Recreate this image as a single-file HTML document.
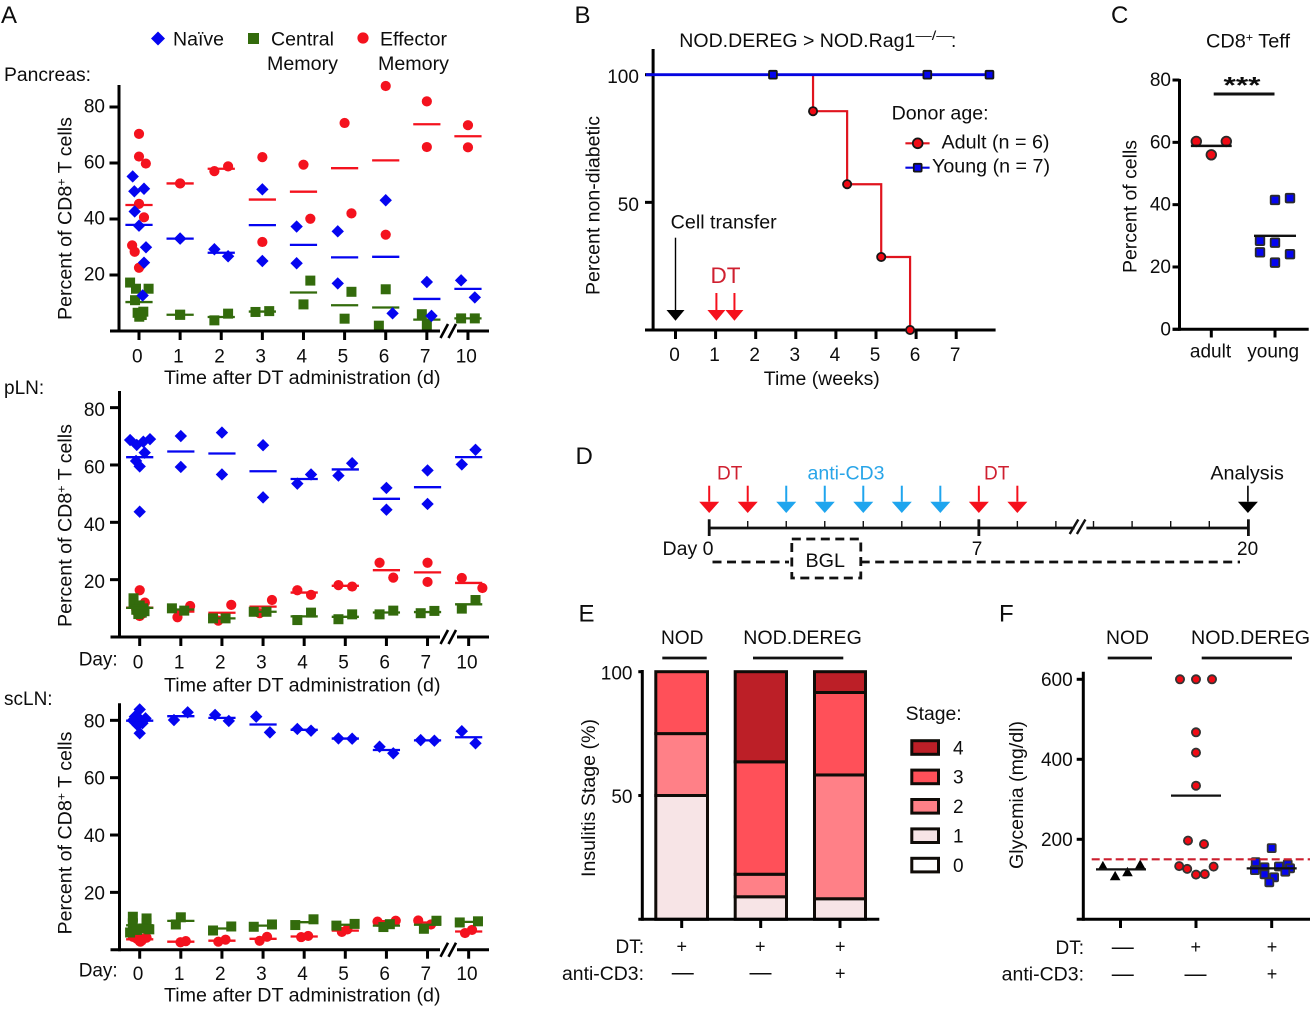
<!DOCTYPE html>
<html lang="en">
<head>
<meta charset="utf-8">
<title>CD8+ T cell figure</title>
<style>
html,body{margin:0;padding:0;background:#fff;}
svg{display:block;font-family:"Liberation Sans",Arial,sans-serif;font-size:19px;fill:#0d0d0d;}
.letter{font-size:24px;}
</style>
</head>
<body>
<svg id="figure" xmlns="http://www.w3.org/2000/svg" width="1315" height="1009" viewBox="0 0 1315 1009">
<rect x="0" y="0" width="1315" height="1009" fill="#ffffff"/>

<text class="letter" x="1" y="23">A</text>
<text class="letter" x="574.5" y="23">B</text>
<text class="letter" x="1111" y="23">C</text>
<text class="letter" x="575.5" y="464">D</text>
<text class="letter" x="578.5" y="621.5">E</text>
<text class="letter" x="999" y="621.5">F</text>

<g>
  <polygon points="158,31.5 165,38.5 158,45.5 151,38.5" fill="#0505f0"/>
  <text x="173" y="45.7" textLength="51" lengthAdjust="spacingAndGlyphs">Naïve</text>
  <rect x="248" y="33" width="11" height="11" fill="#336b0c"/>
  <text x="271" y="45.7" textLength="63" lengthAdjust="spacingAndGlyphs">Central</text>
  <text x="267" y="70" textLength="71" lengthAdjust="spacingAndGlyphs">Memory</text>
  <circle cx="363" cy="38" r="5.6" fill="#f4121e"/>
  <text x="380" y="45.7" textLength="67" lengthAdjust="spacingAndGlyphs">Effector</text>
  <text x="378" y="70" textLength="71" lengthAdjust="spacingAndGlyphs">Memory</text>
</g>

<text x="4" y="81" textLength="87" lengthAdjust="spacingAndGlyphs">Pancreas:</text>
<text x="4" y="394">pLN:</text>
<text x="4" y="705">scLN:</text>

<g id="chart-pancreas"></g>
<g id="chart-pln"></g>
<g id="chart-scln"></g>

<text transform="translate(71.5,320) rotate(-90)" textLength="203" lengthAdjust="spacingAndGlyphs">Percent of CD8<tspan font-size="12" dy="-6">+</tspan><tspan dy="6"> T cells</tspan></text>
<text transform="translate(71.5,627) rotate(-90)" textLength="203" lengthAdjust="spacingAndGlyphs">Percent of CD8<tspan font-size="12" dy="-6">+</tspan><tspan dy="6"> T cells</tspan></text>
<text transform="translate(71.5,934.5) rotate(-90)" textLength="203" lengthAdjust="spacingAndGlyphs">Percent of CD8<tspan font-size="12" dy="-6">+</tspan><tspan dy="6"> T cells</tspan></text>
<text x="164" y="384" textLength="276.5" lengthAdjust="spacingAndGlyphs">Time after DT administration (d)</text>
<text x="164" y="691.7" textLength="276.5" lengthAdjust="spacingAndGlyphs">Time after DT administration (d)</text>
<text x="164" y="1001.7" textLength="276.5" lengthAdjust="spacingAndGlyphs">Time after DT administration (d)</text>
<text x="78.7" y="665.7" textLength="39" lengthAdjust="spacingAndGlyphs">Day:</text>
<text x="78.7" y="976.7" textLength="39" lengthAdjust="spacingAndGlyphs">Day:</text>

<!-- Panel B static text -->
<text x="679.3" y="47" textLength="236" lengthAdjust="spacingAndGlyphs">NOD.DEREG &gt; NOD.Rag1</text>
<text x="915.5" y="40" font-size="13" textLength="37" lengthAdjust="spacingAndGlyphs">—/—</text>
<text x="951" y="47">:</text>
<text transform="translate(599.5,295) rotate(-90)" textLength="179" lengthAdjust="spacingAndGlyphs">Percent non-diabetic</text>
<text x="763.8" y="385" textLength="116" lengthAdjust="spacingAndGlyphs">Time (weeks)</text>
<text x="670.7" y="228.3" textLength="106" lengthAdjust="spacingAndGlyphs">Cell transfer</text>
<text x="710.5" y="283" font-size="22.5" fill="#cf2030">DT</text>
<text x="891.6" y="119.5" textLength="97" lengthAdjust="spacingAndGlyphs">Donor age:</text>
<text x="941.5" y="148.3" textLength="108" lengthAdjust="spacingAndGlyphs">Adult (n = 6)</text>
<text x="932" y="172.7" textLength="118" lengthAdjust="spacingAndGlyphs">Young (n = 7)</text>
<g id="chart-b"></g>

<!-- Panel C static text -->
<text x="1206" y="47.3" textLength="84" lengthAdjust="spacingAndGlyphs">CD8<tspan font-size="12" dy="-6">+</tspan><tspan dy="6"> Teff</tspan></text>
<text transform="translate(1136.7,273) rotate(-90)" textLength="133" lengthAdjust="spacingAndGlyphs">Percent of cells</text>
<text x="1223.5" y="93" font-size="23" font-weight="bold" textLength="37" lengthAdjust="spacingAndGlyphs">***</text>
<line x1="1213.7" y1="94" x2="1274.5" y2="94" stroke="#111" stroke-width="3"/>
<g id="chart-c"></g>

<!-- Panel D -->
<g id="timeline"></g>
<text x="717" y="479.3" fill="#cf2030">DT</text>
<text x="807.5" y="479.3" fill="#29a5e8" textLength="77" lengthAdjust="spacingAndGlyphs">anti-CD3</text>
<text x="984" y="479.3" fill="#cf2030">DT</text>
<text x="1210.4" y="479.3" textLength="73.5" lengthAdjust="spacingAndGlyphs">Analysis</text>
<text x="662.5" y="555" textLength="51" lengthAdjust="spacingAndGlyphs">Day 0</text>
<text x="971.7" y="555">7</text>
<text x="1237" y="555">20</text>
<text x="805.5" y="567" textLength="39.5" lengthAdjust="spacingAndGlyphs">BGL</text>
<line x1="712.5" y1="562" x2="789" y2="562" stroke="#111" stroke-width="2.8" stroke-dasharray="9 5.5"/>
<line x1="860.7" y1="562" x2="1240" y2="562" stroke="#111" stroke-width="2.8" stroke-dasharray="9 5.5"/>
<rect x="791.8" y="539" width="69" height="39" fill="none" stroke="#111" stroke-width="2.8" stroke-dasharray="9 5.5"/>

<!-- Panel E static text -->
<text x="661" y="644" textLength="42.5" lengthAdjust="spacingAndGlyphs">NOD</text>
<line x1="662.3" y1="658" x2="706.7" y2="658" stroke="#111" stroke-width="2.8"/>
<text x="743.3" y="644" textLength="118.5" lengthAdjust="spacingAndGlyphs">NOD.DEREG</text>
<line x1="753" y1="658" x2="843.3" y2="658" stroke="#111" stroke-width="2.8"/>
<text transform="translate(595,877) rotate(-90)" textLength="158" lengthAdjust="spacingAndGlyphs">Insulitis Stage (%)</text>
<text x="905.7" y="720" textLength="56" lengthAdjust="spacingAndGlyphs">Stage:</text>
<g id="chart-e"></g>
<text x="644" y="953" text-anchor="end">DT:</text>
<text x="562" y="980" textLength="82" lengthAdjust="spacingAndGlyphs">anti-CD3:</text>
<text x="681.7" y="952.5" text-anchor="middle" font-size="18">+</text>
<text x="760.3" y="952.5" text-anchor="middle" font-size="18">+</text>
<text x="840.3" y="952.5" text-anchor="middle" font-size="18">+</text>
<text x="682.8" y="979.5" text-anchor="middle" font-size="22">—</text>
<text x="760.5" y="979.5" text-anchor="middle" font-size="22">—</text>
<text x="840.3" y="979.5" text-anchor="middle" font-size="18">+</text>

<!-- Panel F static text -->
<text x="1106" y="644" textLength="43" lengthAdjust="spacingAndGlyphs">NOD</text>
<line x1="1107.7" y1="658" x2="1152" y2="658" stroke="#111" stroke-width="2.8"/>
<text x="1191" y="644" textLength="119" lengthAdjust="spacingAndGlyphs">NOD.DEREG</text>
<line x1="1201.7" y1="658" x2="1292" y2="658" stroke="#111" stroke-width="2.8"/>
<text transform="translate(1023,869) rotate(-90)" textLength="148" lengthAdjust="spacingAndGlyphs">Glycemia (mg/dl)</text>
<g id="chart-f"></g>
<text x="1084" y="954" text-anchor="end">DT:</text>
<text x="1001.7" y="980.7" textLength="82.3" lengthAdjust="spacingAndGlyphs">anti-CD3:</text>
<text x="1122.7" y="954" text-anchor="middle" font-size="22">—</text>
<text x="1195.7" y="953" text-anchor="middle" font-size="18">+</text>
<text x="1272" y="953" text-anchor="middle" font-size="18">+</text>
<text x="1122.7" y="981" text-anchor="middle" font-size="22">—</text>
<text x="1195.5" y="981" text-anchor="middle" font-size="22">—</text>
<text x="1272" y="980" text-anchor="middle" font-size="18">+</text>
</svg>

<script>
// ---------- Panel A data: one list per day, jitter lists are swarm slots (1 slot = 1/6 of a category) ----------
const dayLabels = ['0','1','2','3','4','5','6','7','10'];
const percentTicks = [20,40,60,80];

const pancreasNaive = [[55.2,49.9,50.8,42.7,37.6,29.9,24.4,12.7],[33,33],[29.2,26.7],[50.6,25],[37.3,24.2],[35.6,17],[46.7,6.3],[17.5,5.4],[18.1,12]];
const pancreasNaiveSlots = [[-0.92,-0.68,0.73,-0.63,0,1.02,0.73,0.53],[0,0],[-1,1],[0,0],[-1,-1],[-1,-1],[0,1],[0,0.68],[-1,1]];
const pancreasCentral = [[17.3,15.1,15.1,11,6.5,6.9,5.1,5.7],[5.8,5.8],[3.8,6.2],[6.8,7.1],[18,9.5],[14,4.4],[14.9,1.9],[6,2.1],[4.5,4.5]];
const pancreasCentralSlots = [[-1.3,-0.44,1.4,-0.58,-0.2,0.63,0.04,0.4],[0,0],[-1,1],[-1,1],[1,0],[1,0],[0,-1],[-0.73,0],[-1,1]];
const pancreasEffector = [[70.4,62.3,59.8,45.4,40.6,30.6,28.3,22.6],[52.7,52.7],[57.1,58.8],[62.1,31.8],[59.4,40.1],[74.3,42],[87.5,34.4],[82,65.7],[73.5,65.6]];
const pancreasEffectorSlots = [[0,0,1,0,0.73,-1,-0.63,0],[0,0],[-1,1],[0,0],[0,1],[0,1],[0,0],[0,0],[0,0]];

const plnNaive = [[68.7,67,68.1,69,64.3,61.4,59.5,43.7],[70.1,59.3],[71.3,56.7],[66.9,48.7],[53.5,56.7],[56.3,60.6],[52,44.4],[58.1,46.4],[60.2,65.3]];
const plnNaiveSlots = [[-1.4,-0.43,0.53,1.5,0.73,-0.53,0,0],[0,0],[0,0],[0,0],[-1,1],[-1,1],[0,0],[0,0],[-1,1]];
const plnCentral = [[13.5,11.7,11,10,9.5,9,8.5,8],[10,9.2],[6.5,6.5],[8.8,8.8],[5.9,8.5],[6.2,7.9],[7.9,9.2],[8.3,9.1],[9.9,12.9]];
const plnCentralSlots = [[-0.9,-0.9,0,0.5,-0.5,0.7,0.3,-0.2],[-1.3,0.5],[-1.3,0.53],[-1.36,0.5],[-1,1],[-1,1],[-1,1],[-1,1],[-1,1]];
const plnEffector = [[16.3,12,11,9.5,9.4,8.5,8,7.3],[10.8,6.9],[11.2,5.7],[12.9,8.3],[16.3,14.7],[18.1,17.6],[25.9,20.7],[25.9,19.2],[20.6,17.1]];
const plnEffectorSlots = [[0,0.75,0,-0.5,0.5,-0.3,0.3,0],[1.36,-0.49],[1.36,-0.53],[1.3,-0.5],[-1,1],[-1,1],[-1,1],[0,0],[-1,2]];

const sclnNaive = [[83.8,81.3,80.7,80.5,80,79,78.3,75.5],[80.1,82.8],[81.9,79.8],[81.3,75.8],[77,76.4],[73.7,73.6],[70.8,68.5],[73.1,72.9],[76.2,72]];
const sclnNaiveSlots = [[0,-0.7,0.85,0,-1,0.4,-0.3,0],[-1,1],[-1,1],[-1,1],[-1,1],[-1,1],[-1,1],[-1,1],[-1,1]];
const sclnCentral = [[11.5,10.9,9.2,9.2,6,6.9,7.4,7.1],[11.3,8.8],[6.7,8.1],[8,8.8],[8.6,10.6],[8.4,9],[7.9,8.9],[7.3,10.1],[9.5,9.9]];
const sclnCentralSlots = [[-1,1,-1,1,-1.4,-0.4,0.5,1.4],[0,-0.73],[-1.3,1.36],[-1.36,1.3],[-1.3,1.36],[-1.3,1.36],[-0.44,0.5],[-0.53,1.3],[-1.3,1.36]];
const sclnEffector = [[4.5,4.2,4,3.8,3.5,3.2,3,2.8],[2.6,3],[2.8,3.5],[3.1,4.5],[4.4,4.8],[6.2,7.1],[9.8,10.1],[10.2,8.8],[5.8,6.9]];
const sclnEffectorSlots = [[-1,1,-0.5,0.5,-0.2,0.3,0,0.1],[-0.05,0.73],[-0.53,0.53],[-0.5,0.58],[-0.44,0.58],[-0.5,0.3],[-1.3,1.36],[-1.36,0.5],[-0.53,0.49]];

// ---------- Panel B data ----------
const weekTicks = [0,1,2,3,4,5,6,7];
const survivalTicks = [50,100];
const adultEventWeeks = [3.43,4.28,5.13,5.85];
const adultSurvival = [85.7,57.1,28.6,0];
const youngCensorWeeks = [2.43,6.28,7.83];
const youngSurvival = [100,100,100];
const cellTransferWeek = [0];
const dtWeeks = [1.02,1.47];

// ---------- Panel C data ----------
const teffGroups = ['adult','young'];
const teffTicks = [0,20,40,60,80];
const teffAdult = [60.3,60.3,56];
const teffAdultSlots = [-1,1,0];
const teffYoung = [41.5,42.1,28.4,27.8,24.7,24.1,21.4];
const teffYoungSlots = [0,1,-1,0,-1,1,0];

// ---------- Panel D data ----------
const timelineDays = [0,1,2,3,4,5,6,7,8,9];
const timelineLateDays = [10,11,12,13,14];
const dtDays = [0,1,7,8];
const antiCd3Days = [2,3,4,5,6];

// ---------- Panel E data ----------
const stageNames = ['1','2','3','4'];
const stageBarNod = [50,25,25,0];
const stageBarDereg = [9.1,9.1,45.4,36.4];
const stageBarDeregCd3 = [8.3,50,33.3,8.4];
const stageLegend = ['4','3','2','1','0'];
const insulitisTicks = [50,100];

// ---------- Panel F data ----------
const glycemiaTicks = [200,400,600];
const glycemiaThreshold = [150];
const glycemiaNod = [134,109,119,137.5];
const glycemiaNodSlots = [-2.2,-0.67,0.87,2.46];
const glycemiaDereg = [600,600,600,467.5,416.7,334,196.7,188,133,126,111.7,113,131.7];
const glycemiaDeregSlots = [-2,0,2,0,0,0,-1,1,-2.1,-1.1,0,1.1,2.2];
const glycemiaDeregCd3 = [178,143,137.5,132,130,123,127.5,119,105,112.5,92.5];
const glycemiaDeregCd3Slots = [0,-2,2,0.9,-0.9,-2.1,2.3,1.7,0.3,-0.9,-0.3];

// ---------- Helpers ----------
const SVGNS = 'http://www.w3.org/2000/svg';
const BLUE = '#0505f0', GREEN = '#336b0c', RED = '#f4121e';

function add(parent, tag, attrs, name) {
  const el = document.createElementNS(SVGNS, tag);
  for (const k in attrs) el.setAttribute(k, attrs[k]);
  
  
  parent.appendChild(el);
  return el;
}
function line(parent, x1, y1, x2, y2, stroke, w, name) {
  return add(parent, 'line', {x1:x1, y1:y1, x2:x2, y2:y2, stroke:stroke, 'stroke-width':w}, name);
}
function label(parent, x, y, str, anchor, name) {
  const t = add(parent, 'text', {x:x, y:y, 'text-anchor':anchor}, name);
  t.textContent = str;
  return t;
}
function mean(arr) { return arr.reduce((a,b)=>a+b,0) / arr.length; }
function diamond(parent, x, y, r, fill, name) {
  return add(parent, 'polygon', {points:[x,y-r,x+r,y,x,y+r,x-r,y].join(' '), fill:fill}, name);
}
function square(parent, x, y, s, fill, stroke, name) {
  const a = {x:x-s/2, y:y-s/2, width:s, height:s, fill:fill};
  if (stroke) { a.stroke = stroke; a['stroke-width'] = 1.8; a.rx = 1; }
  return add(parent, 'rect', a, name);
}
function circle(parent, x, y, r, fill, stroke, name) {
  const a = {cx:x, cy:y, r:r, fill:fill};
  if (stroke) { a.stroke = stroke; a['stroke-width'] = 1.8; }
  return add(parent, 'circle', a, name);
}
function arrowDown(parent, x, y1, yHead, yTip, half, color, lw, name) {
  const g = add(parent, 'g', {}, name);
  line(g, x, y1, x, yHead, color, lw, name + '-shaft');
  add(g, 'polygon', {points:[x-half,yHead,x+half,yHead,x,yTip].join(' '), fill:color}, name + '-head');
  return g;
}

// ---------- Panel A ----------
function drawTimecourse(id, prefix, cfg, series) {
  const root = document.getElementById(id);
  const sx = (i, slot) => cfg.x0 + 41.12 * i + (slot || 0) * 41.12 / 6;
  const sy = v => cfg.zero - v * cfg.k;
  const AW = 3;
  series.forEach(s => {
    const g = add(root, 'g', {}, prefix + '-' + s.key + '-series');
    s.values.forEach((vals, day) => {
      vals.forEach((v, j) => {
        const x = sx(day, s.slots[day][j]), y = sy(v);
        const nm = prefix + '-' + s.key + '-point';
        if (s.key === 'naive') diamond(g, x, y, 6.2, BLUE, nm);
        else if (s.key === 'central') square(g, x, y, 10, GREEN, null, nm);
        else circle(g, x, y, 5.1, RED, null, nm);
      });
      const my = sy(mean(vals));
      line(g, sx(day) - 13.6, my, sx(day) + 13.6, my, s.color, 2.3, prefix + '-' + s.key + '-mean-line');
    });
  });
  line(root, cfg.axisX, cfg.top, cfg.axisX, cfg.zero + 1.5, '#000', AW, prefix + '-y-axis');
  percentTicks.forEach(t => {
    line(root, cfg.axisX - 9.5, sy(t), cfg.axisX, sy(t), '#000', AW, prefix + '-y-tick');
    label(root, 105, sy(t) + cfg.lab, String(t), 'end', prefix + '-y-tick-label');
  });
  line(root, cfg.axisX - 9, cfg.zero, 440, cfg.zero, '#000', AW, prefix + '-x-axis');
  line(root, 457, cfg.zero, 489, cfg.zero, '#000', AW, prefix + '-x-axis-after-break');
  line(root, 440.5, cfg.zero + 7, 448, cfg.zero - 7, '#000', 2.6, prefix + '-axis-break-slash');
  line(root, 448.5, cfg.zero + 7, 456, cfg.zero - 7, '#000', 2.6, prefix + '-axis-break-slash');
  dayLabels.forEach((d, i) => {
    line(root, sx(i), cfg.zero, sx(i), cfg.zero + 9, '#000', AW, prefix + '-x-tick');
    label(root, sx(i) - 1.7, cfg.labY, d, 'middle', prefix + '-x-tick-label');
  });
}
drawTimecourse('chart-pancreas', 'pancreas', {x0:139, axisX:119, zero:331, k:2.8, top:85, lab:5.5, labY:362.7}, [
  {key:'effector', color:RED, values:pancreasEffector, slots:pancreasEffectorSlots},
  {key:'central', color:GREEN, values:pancreasCentral, slots:pancreasCentralSlots},
  {key:'naive', color:BLUE, values:pancreasNaive, slots:pancreasNaiveSlots}
]);
drawTimecourse('chart-pln', 'pln', {x0:139.7, axisX:119.5, zero:637, k:2.867, top:391, lab:8.5, labY:668.3}, [
  {key:'effector', color:RED, values:plnEffector, slots:plnEffectorSlots},
  {key:'central', color:GREEN, values:plnCentral, slots:plnCentralSlots},
  {key:'naive', color:BLUE, values:plnNaive, slots:plnNaiveSlots}
]);
drawTimecourse('chart-scln', 'scln', {x0:139.7, axisX:119.5, zero:949.7, k:2.867, top:703.3, lab:7, labY:980}, [
  {key:'effector', color:RED, values:sclnEffector, slots:sclnEffectorSlots},
  {key:'central', color:GREEN, values:sclnCentral, slots:sclnCentralSlots},
  {key:'naive', color:BLUE, values:sclnNaive, slots:sclnNaiveSlots}
]);

// ---------- Panel B ----------
(function () {
  const root = document.getElementById('chart-b');
  const sx = w => 675.5 + w * 40.1;
  const sy = v => 330 - v * 2.553;
  const AW = 3;
  line(root, 653.1, 49, 653.1, 331.5, '#000', AW, 'survival-y-axis');
  line(root, 645, 330, 995.6, 330, '#000', AW, 'survival-x-axis');
  survivalTicks.forEach(t => {
    line(root, 645, sy(t), 653.1, sy(t), '#000', AW, 'survival-y-tick');
    label(root, 638.9, sy(t) + 8.5, String(t), 'end', 'survival-y-tick-label');
  });
  weekTicks.forEach(w => {
    line(root, sx(w), 330, sx(w), 339, '#000', AW, 'survival-x-tick');
    label(root, sx(w) - 1, 361, String(w), 'middle', 'survival-x-tick-label');
  });
  let d = 'M' + sx(0) + ' ' + sy(100);
  adultEventWeeks.forEach((w, i) => {
    d += ' H' + sx(w) + ' V' + sy(adultSurvival[i]);
  });
  add(root, 'path', {d:d, fill:'none', stroke:'#e0141e', 'stroke-width':2.2}, 'adult-survival-line');
  line(root, 646, sy(100), 992.8, sy(100), '#0505e0', 2.8, 'young-survival-line');
  adultEventWeeks.forEach((w, i) => circle(root, sx(w), sy(adultSurvival[i]), 4.1, '#f00a14', '#151515', 'adult-survival-event'));
  youngCensorWeeks.forEach((w, i) => square(root, sx(w), sy(youngSurvival[i]), 7.8, '#0505f0', '#151515', 'young-survival-censor'));
  cellTransferWeek.forEach(w => arrowDown(root, sx(w), 237.7, 310, 320.7, 9, '#000', 1.4, 'cell-transfer-arrow'));
  dtWeeks.forEach(w => arrowDown(root, sx(w), 293, 310, 320.7, 9, '#f5101c', 2, 'dt-arrow'));
  line(root, 905.4, 143.3, 929.6, 143.3, '#e0141e', 2.2, 'legend-adult-line');
  circle(root, 917.7, 143.3, 4.9, '#f00a14', '#151515', 'legend-adult-marker');
  line(root, 905.4, 167.7, 929.6, 167.7, '#0505e0', 2.2, 'legend-young-line');
  square(root, 917.7, 167.7, 7.8, '#0505f0', '#151515', 'legend-young-marker');
})();

// ---------- Panel C ----------
(function () {
  const root = document.getElementById('chart-c');
  const sy = v => 329.3 - v * 3.116;
  const cx = [1211.3, 1275];
  const AW = 3;
  line(root, 1179.5, 79, 1179.5, 330.8, '#000', AW, 'teff-y-axis');
  line(root, 1172.5, 329.3, 1308.7, 329.3, '#000', AW, 'teff-x-axis');
  teffTicks.forEach(t => {
    line(root, 1172.5, sy(t), 1179.5, sy(t), '#000', AW, 'teff-y-tick');
    label(root, 1171, sy(t) + 6, String(t), 'end', 'teff-y-tick-label');
  });
  teffGroups.forEach((g, i) => {
    line(root, cx[i], 329.3, cx[i], 337.5, '#000', AW, 'teff-x-tick');
    label(root, cx[i] - 0.8 - i, 357.7, g, 'middle', 'teff-x-tick-label');
  });
  teffAdult.forEach((v, i) => circle(root, cx[0] + teffAdultSlots[i] * 15, sy(v), 4.8, '#f00a14', '#2a2a2a', 'teff-adult-point'));
  teffYoung.forEach((v, i) => square(root, cx[1] + teffYoungSlots[i] * 15, sy(v), 8.6, '#0505f0', '#2a2a2a', 'teff-young-point'));
  line(root, cx[0] - 20.4, sy(mean(teffAdult)), cx[0] + 20.4, sy(mean(teffAdult)), '#111', 2.4, 'teff-adult-mean-line');
  line(root, cx[1] - 21, sy(mean(teffYoung)), cx[1] + 21, sy(mean(teffYoung)), '#111', 2.4, 'teff-young-mean-line');
})();

// ---------- Panel D ----------
(function () {
  const root = document.getElementById('timeline');
  const sx = d => 709.2 + d * 38.52;
  const lateX = d => 1093.5 + (d - 10) * 38.6;
  const y = 528;
  line(root, 709.2, y, 1074.5, y, '#111', 2.8, 'timeline-axis');
  line(root, 1086.4, y, 1248.4, y, '#111', 2.8, 'timeline-axis-after-break');
  line(root, 1069.7, 534, 1078.3, 519.5, '#111', 2.4, 'timeline-break-slash');
  line(root, 1076.9, 534, 1085.4, 519.5, '#111', 2.4, 'timeline-break-slash');
  timelineDays.forEach(d => {
    const major = (d === 0 || d === 7);
    line(root, sx(d), major ? 519.3 : 521, sx(d), major ? 536 : 528, '#111', major ? 2.8 : 1.4, 'timeline-tick');
  });
  timelineLateDays.forEach(d => {
    const major = (d === 14);
    const x = major ? 1248.4 : lateX(d);
    line(root, x, major ? 519.3 : 521, x, major ? 536 : 528, '#111', major ? 2.8 : 1.4, 'timeline-tick');
  });
  dtDays.forEach(d => arrowDown(root, sx(d), 485.7, 501.7, 513, 10, '#f5101c', 2, 'timeline-dt-arrow'));
  antiCd3Days.forEach(d => arrowDown(root, sx(d), 485.7, 501.7, 513, 10, '#1fa5ee', 2, 'timeline-anti-cd3-arrow'));
  arrowDown(root, 1247.9, 485.7, 501.7, 513, 10, '#000', 1.6, 'timeline-analysis-arrow');
})();

// ---------- Panel E ----------
(function () {
  const root = document.getElementById('chart-e');
  const sy = v => 919.3 - v * 2.476;
  const fills = {'1':'#f7e4e6','2':'#ff8087','3':'#ff5059','4':'#bc1f27','0':'#ffffff'};
  const bars = [
    {vals:stageBarNod, x:655.8, w:51.7, tick:681.7, name:'nod'},
    {vals:stageBarDereg, x:735.2, w:51.3, tick:760.7, name:'nod-dereg'},
    {vals:stageBarDeregCd3, x:814.5, w:51, tick:840, name:'nod-dereg-anti-cd3'}
  ];
  bars.forEach(b => {
    let acc = 0;
    b.vals.forEach((v, i) => {
      if (v <= 0) return;
      add(root, 'rect', {x:b.x, y:sy(acc + v), width:b.w, height:v * 2.476, fill:fills[stageNames[i]], stroke:'#100c08', 'stroke-width':3}, 'bar-' + b.name + '-stage-' + stageNames[i]);
      acc += v;
    });
    line(root, b.tick, 919.3, b.tick, 928, '#000', 3, 'panel-e-x-tick');
  });
  line(root, 642.3, 670, 642.3, 920.8, '#000', 3, 'panel-e-y-axis');
  line(root, 638.3, 919.3, 879.3, 919.3, '#000', 3, 'panel-e-x-axis');
  insulitisTicks.forEach(t => {
    line(root, 638.3, sy(t), 642.3, sy(t), '#000', 3, 'panel-e-y-tick');
    label(root, 632.5, sy(t) + 7.6, String(t), 'end', 'panel-e-y-tick-label');
  });
  stageLegend.forEach((s, i) => {
    const cy = 747.5 + i * 29.4;
    add(root, 'rect', {x:911.8, y:cy - 6.8, width:26.7, height:13.6, fill:fills[s], stroke:'#100c08', 'stroke-width':3}, 'stage-legend-swatch-' + s);
    label(root, 953, cy + 6.8, s, 'start', 'stage-legend-label-' + s);
  });
})();

// ---------- Panel F ----------
(function () {
  const root = document.getElementById('chart-f');
  const sy = v => 919.3 - v * 0.4;
  const cx = [1120.5, 1196, 1271.7];
  const AW = 3;
  line(root, 1083.3, 671.7, 1083.3, 920.8, '#000', AW, 'glycemia-y-axis');
  line(root, 1076.7, 919.3, 1310, 919.3, '#000', AW, 'glycemia-x-axis');
  glycemiaTicks.forEach(t => {
    line(root, 1076.7, sy(t), 1083.3, sy(t), '#000', AW, 'glycemia-y-tick');
    label(root, 1072.7, sy(t) + 6.8, String(t), 'end', 'glycemia-y-tick-label');
  });
  cx.forEach(x => line(root, x, 919.3, x, 928, '#000', AW, 'glycemia-x-tick'));
  glycemiaNod.forEach((v, i) => {
    const x = cx[0] + glycemiaNodSlots[i] * 8, y = sy(v);
    add(root, 'polygon', {points:[x-5.3,y+4.6,x+5.3,y+4.6,x,y-4.8].join(' '), fill:'#000'}, 'glycemia-nod-point');
  });
  glycemiaDereg.forEach((v, i) => circle(root, cx[1] + glycemiaDeregSlots[i] * 8, sy(v), 4.1, '#f00a14', '#333', 'glycemia-nod-dereg-point'));
  glycemiaDeregCd3.forEach((v, i) => square(root, cx[2] + glycemiaDeregCd3Slots[i] * 8, sy(v), 8, '#0505f0', '#333', 'glycemia-nod-dereg-anti-cd3-point'));
  line(root, cx[0] - 24.5, sy(mean(glycemiaNod)), cx[0] + 25.5, sy(mean(glycemiaNod)), '#111', 2.2, 'glycemia-nod-mean-line');
  line(root, cx[1] - 25, sy(mean(glycemiaDereg)), cx[1] + 25, sy(mean(glycemiaDereg)), '#111', 2.2, 'glycemia-nod-dereg-mean-line');
  line(root, cx[2] - 25, sy(mean(glycemiaDeregCd3)), cx[2] + 25, sy(mean(glycemiaDeregCd3)), '#111', 2.2, 'glycemia-nod-dereg-anti-cd3-mean-line');
  glycemiaThreshold.forEach(t => add(root, 'line', {x1:1091.7, y1:sy(t), x2:1310, y2:sy(t), stroke:'#cc1f2e', 'stroke-width':2.2, 'stroke-dasharray':'8 4'}, 'diabetes-threshold-line'));
})();
</script>
</body>
</html>
